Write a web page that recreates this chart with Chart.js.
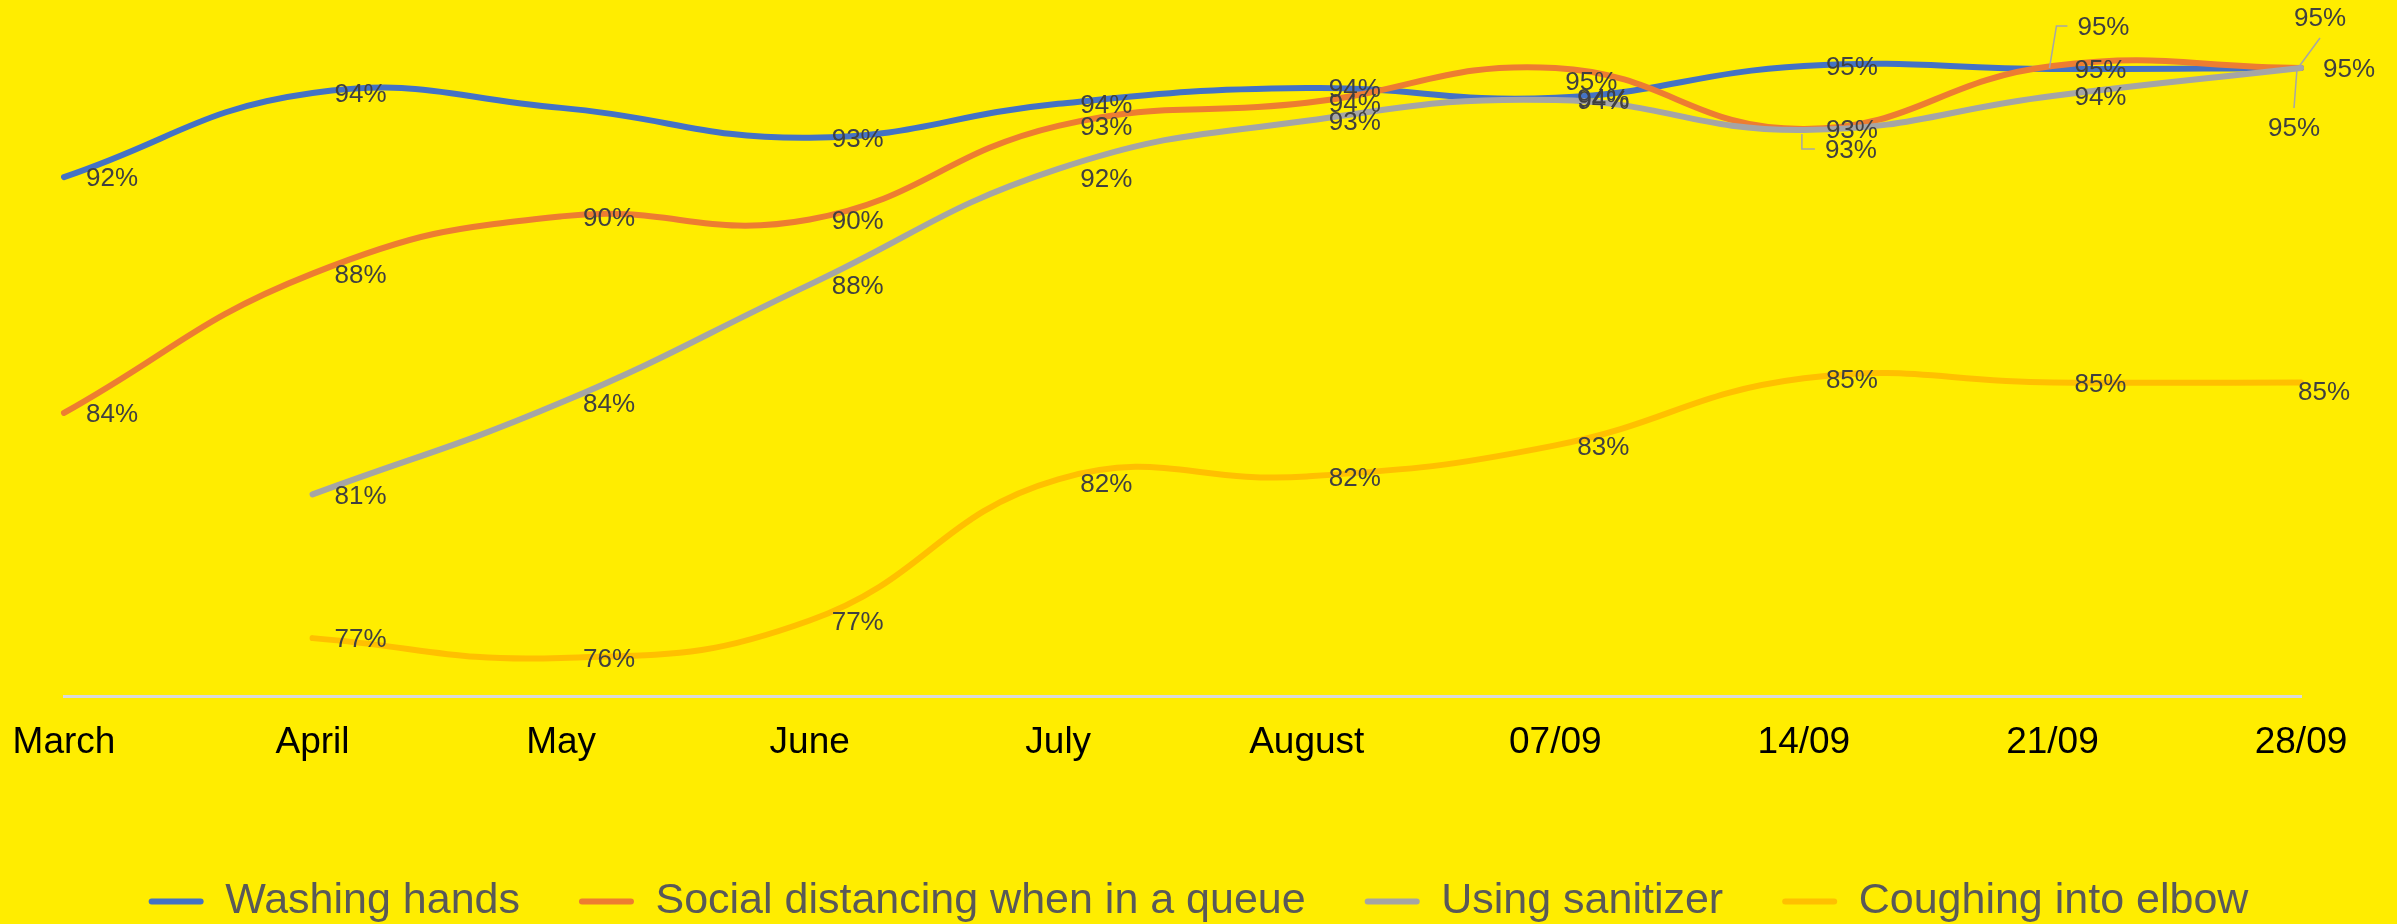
<!DOCTYPE html>
<html>
<head>
<meta charset="utf-8">
<script src="https://cdn.jsdelivr.net/npm/chart.js@4/dist/chart.umd.min.js"></script>
<style>
html,body{margin:0;padding:0;background:#FFED00;overflow:hidden}
#wrap{width:2397px;height:924px}
</style>
</head>
<body>
<div id="wrap"><canvas id="c" width="2397" height="924"></canvas></div>
<script>
// ---- data ----
const categories = ['March','April','May','June','July','August','07/09','14/09','21/09','28/09'];
const seriesNames = ['Washing hands','Social distancing when in a queue','Using sanitizer','Coughing into elbow'];
const washingHands     = [91.5, 94.17, 93.7, 92.75, 93.83, 94.33, 94.02, 95.03, 94.94, 94.97];
const socialDistancing = [84.0, 88.43, 90.25, 90.15, 93.13, 93.86, 94.97, 93.03, 95.03, 94.97];
const usingSanitizer   = [null, 81.41, 84.33, 88.08, 91.76, 93.29, 93.95, 93.0, 94.08, 94.97];
const coughingElbow    = [null, 76.84, 76.21, 77.4, 81.89, 81.98, 82.97, 85.1, 84.97, 84.97];

// ---- styles ----
const FONT = "'Liberation Sans', Arial, Helvetica, sans-serif";
const colors = ['#4472C4', '#ED7D31', '#A5A5A5', '#FFC000'];
const BG = '#FFED00';

// data label placement tweaks (dataset-index), offsets in px from the point
const labelAdjust = {
  '0-2': {hide: true},
  '1-6': {dx: 10, dy: 15},
  '1-8': {dx: 25, dy: -38, leader: [[-3, 2], [4, -40], [15, -40]]},
  '1-9': {dx: -7, dy: -49, leader: [[-3, 0], [19, -30]]},
  '2-4': {dy: 11},
  '2-7': {dx: 21, dy: 21, leader: [[-2, 4], [-2, 19], [11, 19]]},
  '2-9': {dx: -33, dy: 61, leader: [[-4, 1], [-7, 40]]},
  '3-4': {dy: 6},
  '3-9': {dx: -3, dy: 10}
};

const bgPlugin = {
  id: 'bg',
  beforeDraw(chart) {
    const ctx = chart.ctx;
    ctx.save();
    ctx.fillStyle = BG;
    ctx.fillRect(0, 0, chart.width, chart.height);
    ctx.restore();
  }
};

const labelPlugin = {
  id: 'pctLabels',
  afterDatasetsDraw(chart) {
    const ctx = chart.ctx;
    ctx.save();
    ctx.font = '26px ' + FONT;
    ctx.fillStyle = '#404040';
    ctx.textAlign = 'left';
    ctx.textBaseline = 'middle';
    chart.data.datasets.forEach((ds, i) => {
      const meta = chart.getDatasetMeta(i);
      meta.data.forEach((pt, j) => {
        const v = ds.data[j];
        if (v === null || v === undefined) return;
        const adj = labelAdjust[i + '-' + j] || {};
        if (adj.hide) return;
        const dx = adj.dx !== undefined ? adj.dx : 22;
        const dy = adj.dy !== undefined ? adj.dy : 2;
        if (adj.leader) {
          ctx.save();
          ctx.strokeStyle = '#A6A6A6';
          ctx.lineWidth = 1.5;
          ctx.beginPath();
          adj.leader.forEach((p, k) => {
            const x = pt.x + p[0], y = pt.y + p[1];
            if (k === 0) ctx.moveTo(x, y); else ctx.lineTo(x, y);
          });
          ctx.stroke();
          ctx.restore();
        }
        ctx.fillText(Math.round(v) + '%', pt.x + dx, pt.y + dy);
      });
    });
    ctx.restore();
  }
};

const seriesData = [washingHands, socialDistancing, usingSanitizer, coughingElbow];
const datasets = seriesNames.map((name, i) => ({
  label: name,
  data: seriesData[i],
  borderColor: colors[i],
  backgroundColor: colors[i],
  borderWidth: 6,
  borderCapStyle: 'round',
  borderJoinStyle: 'round',
  pointRadius: 0,
  pointHoverRadius: 0,
  tension: 0.45,
  fill: false,
  clip: false,
  order: 3 - i
}));

new Chart(document.getElementById('c'), {
  type: 'line',
  data: { labels: categories, datasets },
  options: {
    responsive: false,
    devicePixelRatio: 1,
    animation: false,
    layout: { padding: { top: 0, left: 0, right: 0, bottom: -9 } },
    plugins: {
      tooltip: { enabled: false },
      title: { display: false },
      legend: {
        position: 'bottom',
        labels: {
          font: { size: 43, family: FONT },
          color: '#595959',
          boxWidth: 55,
          boxHeight: 6,
          padding: 59,
          useBorderRadius: true,
          borderRadius: 3,
          generateLabels(chart) {
            const items = Chart.defaults.plugins.legend.labels.generateLabels(chart);
            items.forEach(it => { it.lineWidth = 0; });
            items.sort((a, b) => a.datasetIndex - b.datasetIndex);
            return items;
          }
        }
      }
    },
    scales: {
      x: {
        type: 'category',
        offset: false,
        grid: { display: false, drawTicks: false },
        border: { display: true, color: '#D9D9D9', width: 3 },
        ticks: {
          color: '#000000',
          font: { size: 37, family: FONT },
          padding: 25,
          maxRotation: 0,
          autoSkip: false
        },
        afterFit(s) { s.height = 125; s.paddingLeft = 0; s.paddingRight = 0; }
      },
      y: {
        type: 'linear',
        position: 'left',
        min: 75,
        max: 97.13,
        display: true,
        grid: { display: false, drawTicks: false },
        border: { display: false },
        ticks: { display: false },
        afterFit(s) { s.width = 64; }
      },
      y2: {
        type: 'linear',
        position: 'right',
        display: true,
        grid: { display: false, drawTicks: false },
        border: { display: false },
        ticks: { display: false },
        afterFit(s) { s.width = 96; }
      }
    }
  },
  plugins: [bgPlugin, labelPlugin]
});
</script>
</body>
</html>
